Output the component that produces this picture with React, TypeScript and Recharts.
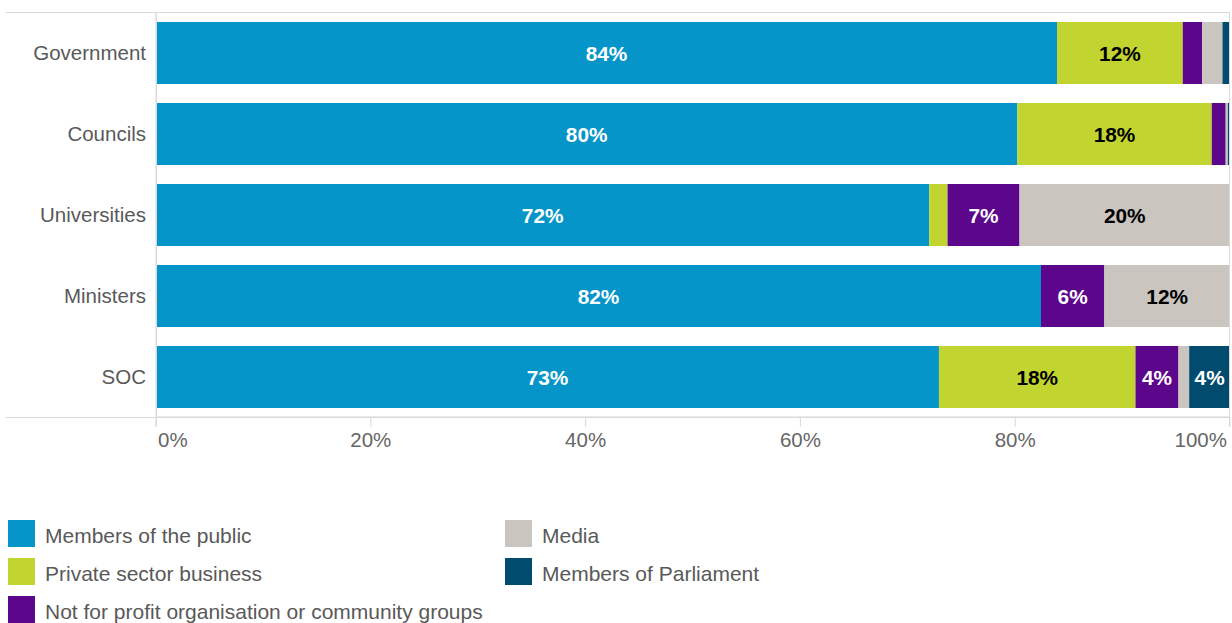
import React from 'react';
import { BarChart, Bar, XAxis, YAxis, LabelList } from 'recharts';

const categories = ['Government', 'Councils', 'Universities', 'Ministers', 'SOC'];
const membersOfPublic = [83.9, 80.2, 72.0, 82.4, 72.9];
const privateSector = [11.7, 18.1, 1.7, 0, 18.3];
const notForProfit = [1.8, 1.3, 6.7, 5.9, 4.0];
const media = [1.9, 0.2, 19.6, 11.7, 1.0];
const membersOfParliament = [0.7, 0.2, 0, 0, 3.8];
const xTicks = [0, 20, 40, 60, 80, 100];

const seriesNames = [
  'Members of the public',
  'Private sector business',
  'Not for profit organisation or community groups',
  'Media',
  'Members of Parliament',
];
const seriesKeys = ['public', 'private', 'nfp', 'media', 'mp'];
const seriesColors = ['#0595C9', '#C1D42F', '#5C068C', '#CAC5BE', '#004B6E'];
const labelColors = ['#ffffff', '#000000', '#ffffff', '#000000', '#ffffff'];

const data = categories.map((c, i) => ({
  name: c,
  public: membersOfPublic[i],
  private: privateSector[i],
  nfp: notForProfit[i],
  media: media[i],
  mp: membersOfParliament[i],
}));

const FONT = '"Liberation Sans", Arial, Helvetica, sans-serif';
const W = 1232;
const CH = 460;
const M = { top: 12, right: 2, bottom: 13, left: 0 };
const YW = 156;
const XH = 30;
const GRID = '#d9d9d9';

const makeLabel = (color: string) => (props: any) => {
  const { x, y, width, height, value } = props;
  if (value == null || value < 3) return null;
  return (
    <text
      x={Number(x) + Number(width) / 2}
      y={Number(y) + Number(height) / 2}
      textAnchor="middle"
      dominantBaseline="central"
      fill={color}
      fontFamily={FONT}
      fontWeight="bold"
      fontSize={20.8}
    >
      {Math.round(value)}%
    </text>
  );
};

const XTick = (props: any) => {
  const { x, y, payload } = props;
  const v = payload.value;
  let anchor: 'start' | 'middle' | 'end' = 'middle';
  let dx = 0;
  if (v === 0) { anchor = 'start'; dx = 2; }
  if (v === 100) { anchor = 'end'; dx = -3; }
  return (
    <text x={x + dx} y={y} dy="0.71em" textAnchor={anchor} fill="#666666" fontFamily={FONT} fontSize={20.5}>
      {v}%
    </text>
  );
};

export default function App() {
  const plotLeft = M.left + YW;
  const plotRight = W - M.right;
  const plotTop = M.top;
  const plotBottom = CH - M.bottom - XH;
  return (
    <div style={{ position: 'absolute', left: 0, top: 0, width: W, height: 623, background: '#fff', fontFamily: FONT }}>
      <BarChart width={W} height={CH} data={data} layout="vertical" margin={M} barSize={62}>
        <XAxis
          type="number"
          domain={[0, 100]}
          ticks={xTicks}
          height={XH}
          axisLine={{ stroke: GRID }}
          tickLine={{ stroke: GRID }}
          tickSize={10}
          tickMargin={5}
          tick={<XTick />}
          interval={0}
        />
        <YAxis
          type="category"
          dataKey="name"
          width={YW}
          tickLine={false}
          tickSize={10}
          tickMargin={0}
          axisLine={{ stroke: GRID }}
          tick={{ fill: '#595959', fontSize: 20.5, fontFamily: FONT }}
        />
        {seriesKeys.map((k, i) => (
          <Bar key={k} dataKey={k} stackId="a" fill={seriesColors[i]} name={seriesNames[i]} isAnimationActive={false}>
            <LabelList dataKey={k} content={makeLabel(labelColors[i])} />
          </Bar>
        ))}
      </BarChart>
      <svg width={W} height={CH} style={{ position: 'absolute', left: 0, top: 0, pointerEvents: 'none' }}>
        <line x1={6} x2={plotRight} y1={plotTop + 0.5} y2={plotTop + 0.5} stroke={GRID} />
        <line x1={6} x2={plotRight} y1={plotBottom + 0.5} y2={plotBottom + 0.5} stroke={GRID} />
        <line x1={plotRight - 0.5} x2={plotRight - 0.5} y1={plotTop} y2={plotBottom + 10} stroke={GRID} />
        <line x1={plotLeft + 0.5} x2={plotLeft + 0.5} y1={plotTop} y2={plotBottom + 10} stroke={GRID} />
      </svg>
      <div style={{ position: 'absolute', left: 0, top: 0 }}>
        {seriesNames.map((n, i) => {
          const col = i < 3 ? 0 : 1;
          const row = i < 3 ? i : i - 3;
          return (
            <div
              key={n}
              style={{ position: 'absolute', left: col === 0 ? 8 : 505, top: 520 + row * 38, display: 'flex', alignItems: 'center', whiteSpace: 'nowrap' }}
            >
              <div style={{ width: 27, height: 27, background: seriesColors[i] }} />
              <span style={{ marginLeft: 10, fontSize: 21, color: '#595959', fontFamily: FONT, lineHeight: '27px', position: 'relative', top: 2 }}>{n}</span>
            </div>
          );
        })}
      </div>
    </div>
  );
}
